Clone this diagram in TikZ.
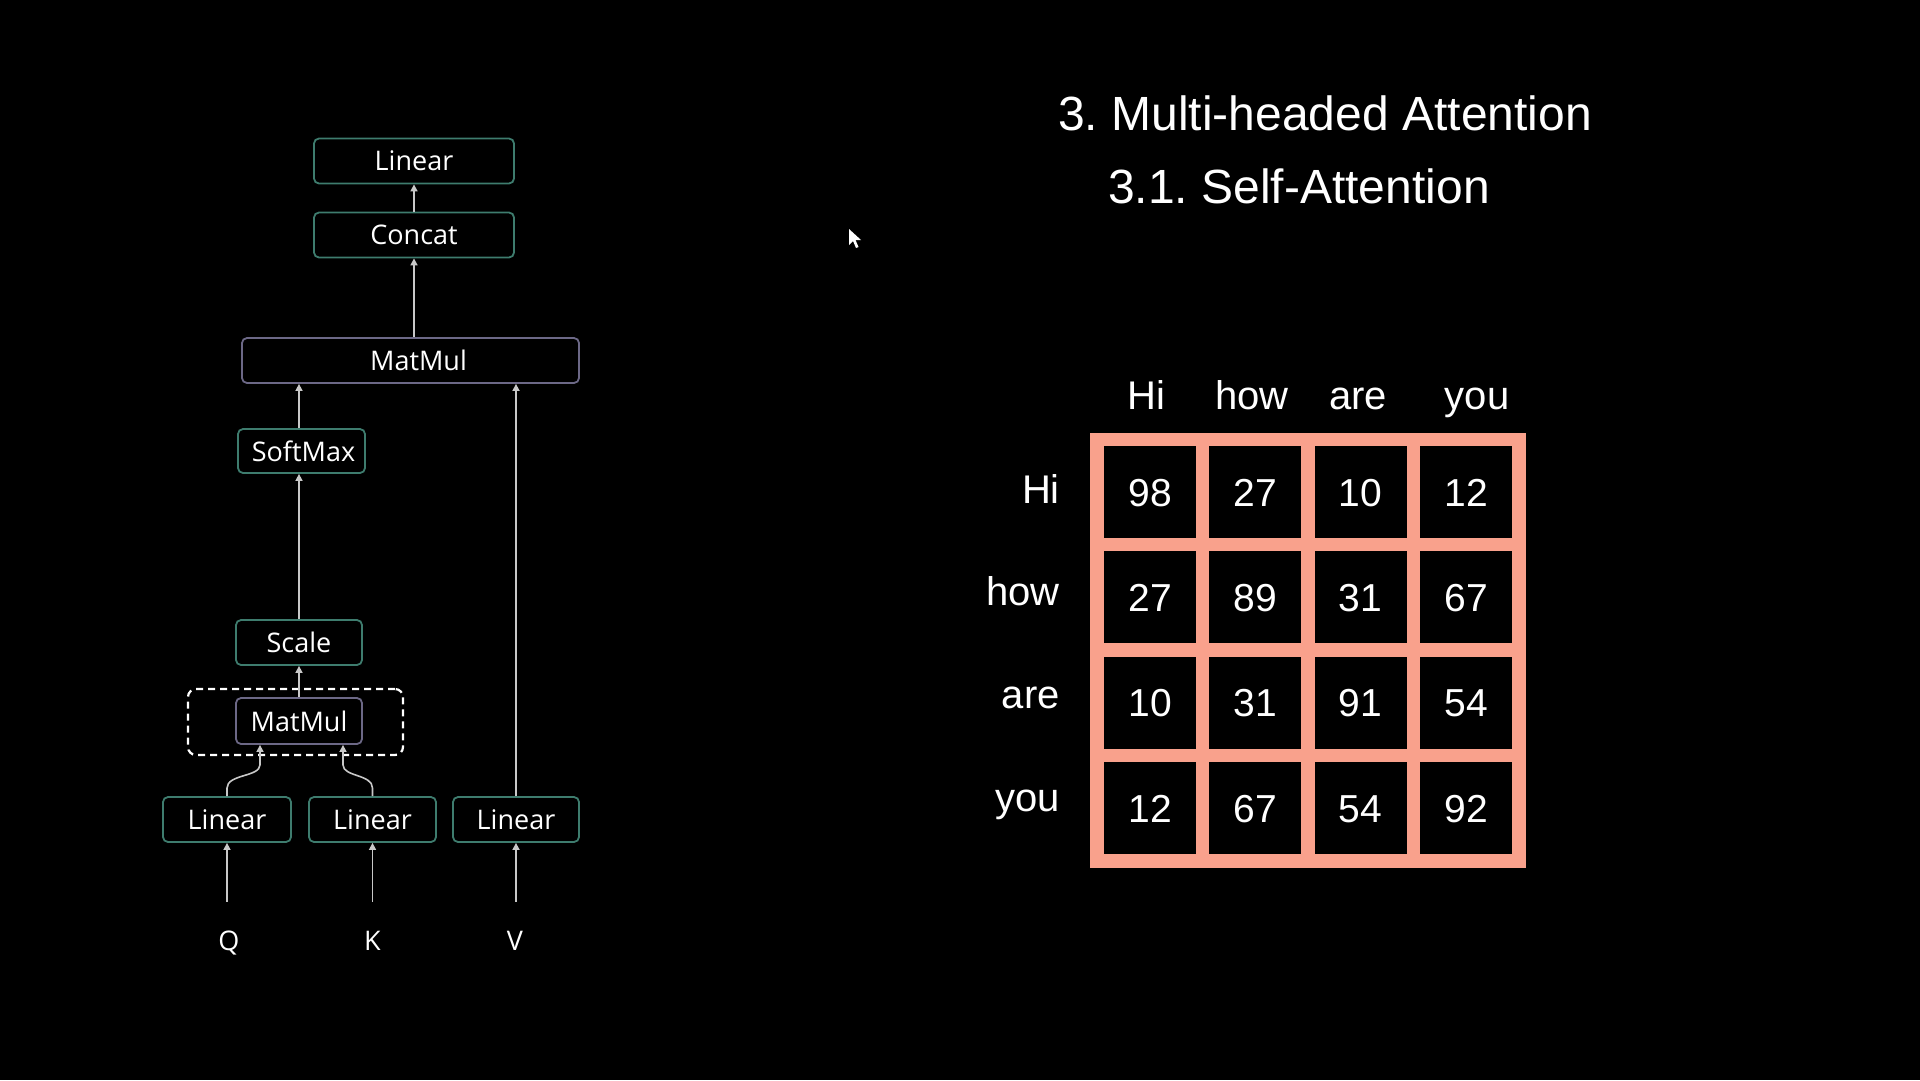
\documentclass[tikz,border=0pt]{standalone}
\usepackage{fontspec}
\usetikzlibrary{arrows.meta,calc}
\newfontfamily\leftfont{Open Sans}
\newfontfamily\rightfont{Liberation Sans}
\definecolor{tealc}{RGB}{62,124,110}
\definecolor{purplec}{RGB}{108,104,134}
\definecolor{arrowc}{RGB}{200,200,200}
\definecolor{salmonc}{RGB}{249,161,140}
\frenchspacing
\tikzset{
  gbox/.style={draw=tealc, line width=1.8pt, rounded corners=5pt, fill=black, text=white,
    font={\leftfont\fontsize{27}{31}\selectfont}, minimum height=45pt, inner sep=0pt},
  pbox/.style={gbox, draw=purplec},
  arr/.style={draw=arrowc, line width=1.6pt, -{Triangle[width=7pt,length=7pt]}},
  qkv/.style={text=white, font={\leftfont\fontsize{27}{31}\selectfont}, text height=20pt, text depth=0pt, inner ysep=28pt, inner xsep=0pt, anchor=base},
  cell/.style={fill=black, minimum width=92pt, minimum height=92pt, inner sep=0pt, text=white,
    font={\rightfont\fontsize{39}{44}\selectfont}, text height=28pt, text depth=0pt},
  rlab/.style={text=white, font={\rightfont\fontsize{40}{46}\selectfont}, inner sep=0pt},
  ttl/.style={text=white, font={\rightfont\fontsize{48}{54}\selectfont}, inner sep=0pt, anchor=base west}
}
\begin{document}
\begin{tikzpicture}[x=1pt,y=-1pt]
\useasboundingbox (0,0) rectangle (1920,1080);
\fill[black] (0,0) rectangle (1920,1080);

% ---- left diagram ----
\node[gbox, minimum width=200pt] (lintop) at (414,161) {Linear};
\node[gbox, minimum width=200pt] (concat) at (414,235) {Concat};
\node[pbox, minimum width=337pt] (mmbig) at (410.5,360.5) {\hspace*{16pt}MatMul};
\node[gbox, minimum width=127pt, minimum height=44pt] (softmax) at (301.5,451) {\hspace*{4pt}SoftMax};
\node[gbox, minimum width=126pt] (scale) at (299,642.5) {Scale};
\node[draw=white, line width=2.2pt, dashed, dash pattern=on 7pt off 5pt, rounded corners=8pt,
      minimum width=215pt, minimum height=66pt, inner sep=0pt] (dash) at (295.5,722) {};
\node[pbox, minimum width=126pt, minimum height=46pt] (mmsmall) at (299,721) {MatMul};
\node[gbox, minimum width=128pt] (linQ) at (227,819.5) {Linear};
\node[gbox, minimum width=127pt] (linK) at (372.5,819.5) {Linear};
\node[gbox, minimum width=126pt] (linV) at (516,819.5) {Linear};
\node[qkv] (Q) at (229,950) {Q};
\node[qkv] (K) at (372.5,950) {K};
\node[qkv] (V) at (515,950) {V};

\draw[arr] (Q.north -| linQ.south) -- (linQ.south);
\draw[arr] (K.north -| linK.south) -- (linK.south);
\draw[arr] (V.north -| linV.south) -- (linV.south);
\draw[arr] (linQ.north) -- ++(0,-8) .. controls +(0,-14) and +(0,12) .. ($(mmsmall.south)+(-39,20)$) -- ($(mmsmall.south)+(-39,0)$);
\draw[arr] (linK.north) -- ++(0,-8) .. controls +(0,-14) and +(0,12) .. ($(mmsmall.south)+(44,20)$) -- ($(mmsmall.south)+(44,0)$);
\draw[arr] (mmsmall.north) -- (scale.south);
\draw[arr] (scale.north) -- (scale.north |- softmax.south);
\draw[arr] (softmax.north -| scale.north) -- (scale.north |- mmbig.south);
\draw[arr] (linV.north) -- (linV.north |- mmbig.south);
\draw[arr] (mmbig.north -| concat.south) -- (concat.south);
\draw[arr] (concat.north) -- (lintop.south);

% ---- cursor ----
\fill[white] (849,229) -- (849,245) -- (853,241) -- (856,248) -- (858.5,247) -- (855.5,240) -- (861,240) -- cycle;

% ---- titles ----
\node[ttl] (t1) at (1058,130) {3. Multi-headed Attention};
\node[ttl] (t2) at (1108,203) {3.1. Self-Attention};

% ---- matrix ----
\fill[salmonc] (1090,433) rectangle (1526,868);
\foreach \r [count=\j from 0] in {{98,27,10,12},{27,89,31,67},{10,31,91,54},{12,67,54,92}} {
  \foreach \v [count=\i from 0] in \r {
    \node[cell] (c\j\i) at ({1150+105.33*\i},{492+105.33*\j}) {\v};
  }
}
\node[rlab, anchor=base] (ch1) at (1146,409) {Hi};
\node[rlab, anchor=base] (ch2) at (1252,409) {how};
\node[rlab, anchor=base] (ch3) at (1358,409) {are};
\node[rlab, anchor=base] (ch4) at (1477,409) {you};
\node[rlab, anchor=base east] (rh1) at (1060,503) {Hi};
\node[rlab, anchor=base east] (rh2) at (1060,605) {how};
\node[rlab, anchor=base east] (rh3) at (1060,708) {are};
\node[rlab, anchor=base east] (rh4) at (1060,811) {you};
\end{tikzpicture}
\end{document}
